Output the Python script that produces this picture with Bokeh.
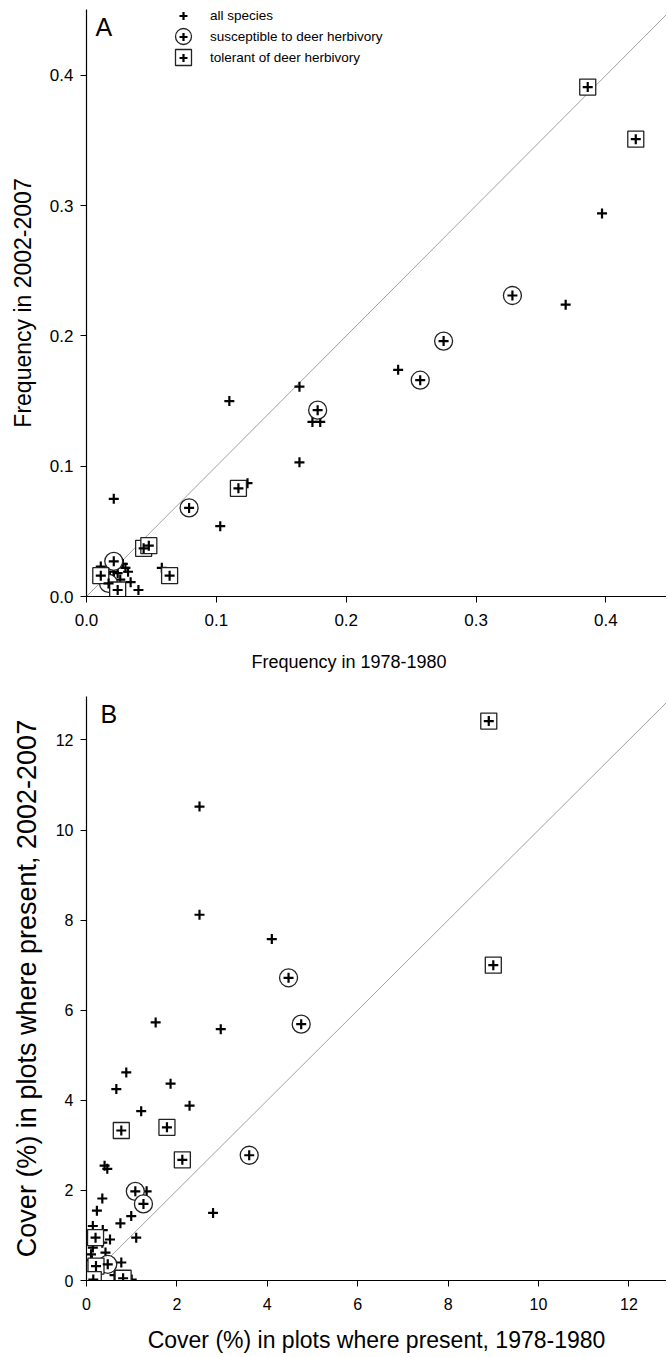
from bokeh.plotting import figure
from bokeh.models import Range1d, Slope, Label, Legend, LegendItem, FixedTicker, Title
from bokeh.layouts import column
from bokeh.embed import file_html
from bokeh.resources import INLINE

# ---------------- data: panel A (frequency) ----------------
a_ticks = [0.0, 0.1, 0.2, 0.3, 0.4]
a_all_x = [0.397, 0.369, 0.240, 0.164, 0.174, 0.180, 0.164, 0.110, 0.124, 0.103, 0.021,
           0.058, 0.011, 0.028, 0.032, 0.034, 0.040, 0.024, 0.021, 0.026, 0.018, 0.030]
a_all_y = [0.294, 0.224, 0.174, 0.161, 0.134, 0.134, 0.103, 0.150, 0.087, 0.054, 0.075,
           0.022, 0.023, 0.025, 0.019, 0.011, 0.005, 0.018, 0.019, 0.013, 0.016, 0.022]
a_sus_x = [0.328, 0.275, 0.257, 0.178, 0.079, 0.021, 0.017]
a_sus_y = [0.231, 0.196, 0.166, 0.143, 0.068, 0.027, 0.010]
a_tol_x = [0.386, 0.423, 0.117, 0.044, 0.048, 0.064, 0.011, 0.024]
a_tol_y = [0.391, 0.351, 0.083, 0.037, 0.039, 0.016, 0.016, 0.005]

# ---------------- data: panel B (cover) ----------------
b_ticks = [0, 2, 4, 6, 8, 10, 12]
b_all_x = [2.50, 2.50, 4.10, 1.53, 2.97, 0.88, 0.66, 1.86, 1.21, 2.28, 0.40, 0.46, 2.80,
           1.33, 0.35, 0.23, 0.99, 0.75, 1.10, 0.14, 0.36, 0.52, 0.35, 0.14, 0.10, 0.42,
           0.77, 0.62, 1.00, 0.12, 0.30]
b_all_y = [10.52, 8.12, 7.58, 5.73, 5.58, 4.62, 4.25, 4.37, 3.76, 3.88, 2.55, 2.48, 1.50,
           1.98, 1.82, 1.55, 1.43, 1.27, 0.95, 1.21, 1.12, 0.91, 0.84, 0.73, 0.58, 0.62,
           0.40, 0.12, 0.02, 0.45, 0.25]
b_sus_x = [4.47, 4.75, 3.60, 1.08, 1.26, 0.47]
b_sus_y = [6.72, 5.69, 2.78, 1.98, 1.70, 0.36]
b_tol_x = [8.90, 9.00, 0.77, 1.78, 2.12, 0.20, 0.21, 0.15, 0.81]
b_tol_y = [12.42, 7.00, 3.33, 3.40, 2.68, 0.95, 0.32, 0.02, 0.05]

legend_labels = ["all species", "susceptible to deer herbivory", "tolerant of deer herbivory"]

FONT = "Liberation Sans"
W = 666


def panel(data, ticks, fmt, x_end, y_end, height, fh, bl, bt, bb,
          xlab, ylab, xlab_size, ylab_size, tick_size, letter, lx, ly):
    p = figure(width=W, height=height, output_backend="svg", toolbar_location=None,
               x_range=Range1d(0, x_end), y_range=Range1d(0, y_end),
               min_border_left=bl, min_border_right=0, min_border_top=bt,
               min_border_bottom=bb)
    p.outline_line_color = None
    p.xgrid.visible = False
    p.ygrid.visible = False
    p.background_fill_color = "white"
    p.border_fill_color = "white"
    p.add_layout(Slope(gradient=1, y_intercept=0, line_color="#a0a0a0", line_width=1,
                       level="underlay"))
    ax, ay, sx, sy, tx, ty = data
    r_all = p.scatter(ax, ay, marker="cross", size=10, line_width=2.2, line_color="black")
    r_c = p.scatter(sx, sy, marker="circle", size=18, line_width=1.3, line_color="#222222",
                    fill_color="white")
    r_s = p.scatter(tx, ty, marker="square", size=16, line_width=1.3, line_color="#222222",
                    fill_color="white")
    r_sc = p.scatter(sx, sy, marker="cross", size=10, line_width=2.2, line_color="black")
    r_tc = p.scatter(tx, ty, marker="cross", size=10, line_width=2.2, line_color="black")
    for axis, lab, lsize in ((p.xaxis[0], xlab, xlab_size), (p.yaxis[0], ylab, ylab_size)):
        axis.ticker = FixedTicker(ticks=ticks)
        axis.major_label_overrides = {t: fmt(t) for t in ticks}
        axis.minor_tick_line_color = None
        axis.major_tick_in = 0
        axis.major_tick_out = 6
        axis.axis_line_color = "black"
        axis.axis_line_width = 1.2
        axis.major_tick_line_color = "black"
        axis.major_label_text_font = FONT
        axis.major_label_text_font_size = tick_size
        axis.major_label_text_color = "black"
        if lab:
            axis.axis_label = lab
        axis.axis_label_text_font = FONT
        axis.axis_label_text_font_style = "normal"
        axis.axis_label_text_font_size = lsize
        axis.axis_label_text_color = "black"
    p.xaxis.major_label_standoff = 11
    p.yaxis.major_label_standoff = 7
    p.xaxis.axis_label_standoff = 14
    p.yaxis.axis_label_standoff = 11
    p.add_layout(Label(x=lx, y=fh - ly, x_units="screen", y_units="screen", text=letter,
                       text_font=FONT, text_font_size="25px", text_color="black",
                       text_baseline="alphabetic"))
    return p, r_all, r_c, r_s, r_sc, r_tc


# ---------------- panel A ----------------
A_FH = 587
A_FW = W - 84
pa, ra_all, ra_c, ra_s, ra_sc, ra_tc = panel(
    (a_all_x, a_all_y, a_sus_x, a_sus_y, a_tol_x, a_tol_y), a_ticks,
    lambda t: f"{t:.1f}", A_FW / 1303.0, A_FH / 1303.0, 696, A_FH, 84, 9, 100,
    None, "Frequency in 2002-2007", "18px", "23px", "17px", "A", 9, 17)

# x-axis title of panel A (sits left of the frame centre, as in the original)
pa.add_layout(Title(text="Frequency in 1978-1980", align="left", offset=165,
                    vertical_align="bottom", standoff=42, text_font=FONT,
                    text_font_size="18px", text_font_style="normal", text_color="black"),
              "below")

# legend: large circle / square outlines, then the labelled cross legend on top
for rr, top in ((ra_c, 7), (ra_s, 28)):
    lg = Legend(items=[LegendItem(label=" ", renderers=[rr], index=0)],
                location=(77, A_FH - top - 40),
                glyph_width=40, glyph_height=40, label_height=40, padding=0, margin=0,
                spacing=0, border_line_color=None, background_fill_alpha=0,
                label_text_font_size="13px")
    pa.add_layout(lg, "center")

leg = Legend(items=[LegendItem(label=legend_labels[0], renderers=[ra_all], index=0),
                    LegendItem(label=legend_labels[1], renderers=[ra_sc], index=0),
                    LegendItem(label=legend_labels[2], renderers=[ra_tc], index=0)],
             location=(87, A_FH - 59), glyph_width=20, glyph_height=21, label_height=21,
             label_standoff=17, padding=0, margin=0, spacing=0, border_line_color=None,
             background_fill_alpha=0, label_text_font=FONT, label_text_font_size="13.5px",
             label_text_color="black")
pa.add_layout(leg, "center")

# ---------------- panel B ----------------
B_FH = 586
B_FW = W - 86
pb = panel(
    (b_all_x, b_all_y, b_sus_x, b_sus_y, b_tol_x, b_tol_y), b_ticks,
    lambda t: f"{t:d}", B_FW / 45.2, B_FH / 45.2, 659, B_FH, 86, 0, 73,
    "Cover (%) in plots where present, 1978-1980",
    "Cover (%) in plots where present, 2002-2007", "23px", "27px", "16px", "B", 14, 19)[0]

layout = column(pa, pb, spacing=0)
open("out.html", "w").write(file_html(layout, INLINE))
